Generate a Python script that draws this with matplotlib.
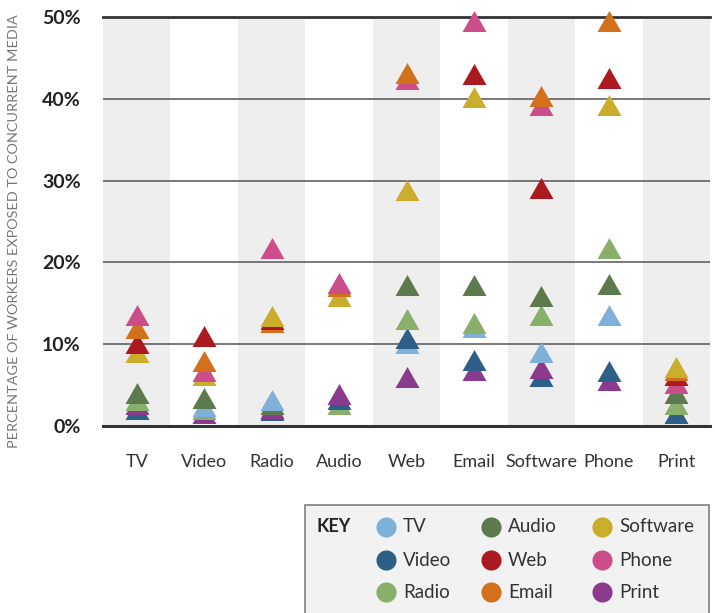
import numpy as np
import matplotlib.pyplot as plt
from matplotlib.patches import Rectangle

plt.rcParams['font.family'] = ['Lato', 'DejaVu Sans']

nan = np.nan
media = ["TV", "Video", "Radio", "Audio", "Web", "Email", "Software", "Phone", "Print"]

# % of workers exposed to each concurrent medium, one value per column (media above)
tv = [nan, 2.4, 3.2, nan, 10.2, 12.1, 9.1, 13.6, nan]
video = [2.1, nan, 1.95, 3.3, 10.8, 8.1, 6.1, 6.7, 1.6]
radio = [3.2, 2.1, nan, 2.7, 13.1, 12.6, 13.6, 21.8, 2.75]
audio = [4.0, 3.4, 2.75, nan, 17.2, 17.2, 15.9, 17.3, 4.05]
web = [10.1, 11.0, 13.1, nan, nan, 43.0, 29.1, 42.6, 6.2]
email = [12.0, 8.0, 12.7, 17.1, 43.2, nan, 40.3, 49.5, 6.8]
software = [9.0, 6.2, 13.5, 15.9, 28.8, 40.2, nan, 39.2, 7.25]
phone = [13.6, 6.7, 21.7, 17.5, 42.4, 49.5, 39.2, nan, 5.3]
print_ = [2.7, 1.6, 2.2, 3.9, 6.0, 6.8, 7.1, 5.6, nan]

series = [tv, video, radio, audio, web, email, software, phone, print_]
colors = ["#7fb0da", "#2e5f88", "#88b06a", "#5d7a4e", "#ab1a20",
          "#d2701c", "#cbad2c", "#cb4d8a", "#8b3b8e"]

tri = [(-1, -0.875), (1, -0.875), (0, 0.875)]

fig = plt.figure(figsize=(7.15, 6.13), dpi=100)
ax = fig.add_axes([103/715, 1 - 426/613, 607/715, 409/613])

for i in range(0, 9, 2):
    ax.axvspan(i - 0.5, i + 0.5, color="#eeeeee", lw=0, zorder=0)

for v in [10, 20, 30, 40]:
    ax.axhline(v, color="#555555", lw=1.1, zorder=1)
ax.axhline(0, color="#333333", lw=2.2, zorder=1, clip_on=False)
ax.axhline(50, color="#333333", lw=2.0, zorder=1, clip_on=False)

# higher markers sit on top of lower ones
for vals, c in zip(series, colors):
    for x, y in enumerate(vals):
        if np.isnan(y):
            continue
        ax.plot(x, y, marker=tri, ms=17.3, color=c, mew=0, ls="none",
                zorder=2 + y / 100, clip_on=False)

ax.set_xlim(-0.5, 8.5)
ax.set_ylim(0, 50)
ax.set_xticks(range(9), media)
ax.set_yticks(range(0, 51, 10), [f"{v}%" for v in range(0, 51, 10)])
ax.tick_params(axis="x", length=0, pad=20, labelsize=13, labelcolor="#333333")
ax.tick_params(axis="y", length=0, pad=16, labelsize=14, labelcolor="#222222")
for t in ax.get_yticklabels():
    t.set_fontweight("bold")
for s in ax.spines.values():
    s.set_visible(False)

fig.text(14/715, 1 - 231/613, "PERCENTAGE OF WORKERS EXPOSED TO CONCURRENT MEDIA",
         rotation=90, ha="center", va="center", fontsize=10.4, color="#777777")

# key box
lax = fig.add_axes([0, 0, 1, 1])
lax.set_xlim(0, 715)
lax.set_ylim(613, 0)
lax.axis("off")
lax.add_patch(Rectangle((305, 505), 404, 120, facecolor="#f2f2f2",
                        edgecolor="#808080", lw=1.2))
lax.text(317, 527, "KEY", fontsize=13, fontweight="bold", color="#222222",
         va="center", ha="left")
col_x = [386, 491, 602]
row_y = [527, 560, 592]
for k, (name, c) in enumerate(zip(media, colors)):
    cx = col_x[k // 3]
    cy = row_y[k % 3]
    lax.scatter(cx, cy, s=210, color=c, lw=0)
    lax.text(cx + 17, cy, name, fontsize=13.5, color="#333333", va="center", ha="left")

fig.savefig("out.png", dpi=100)
